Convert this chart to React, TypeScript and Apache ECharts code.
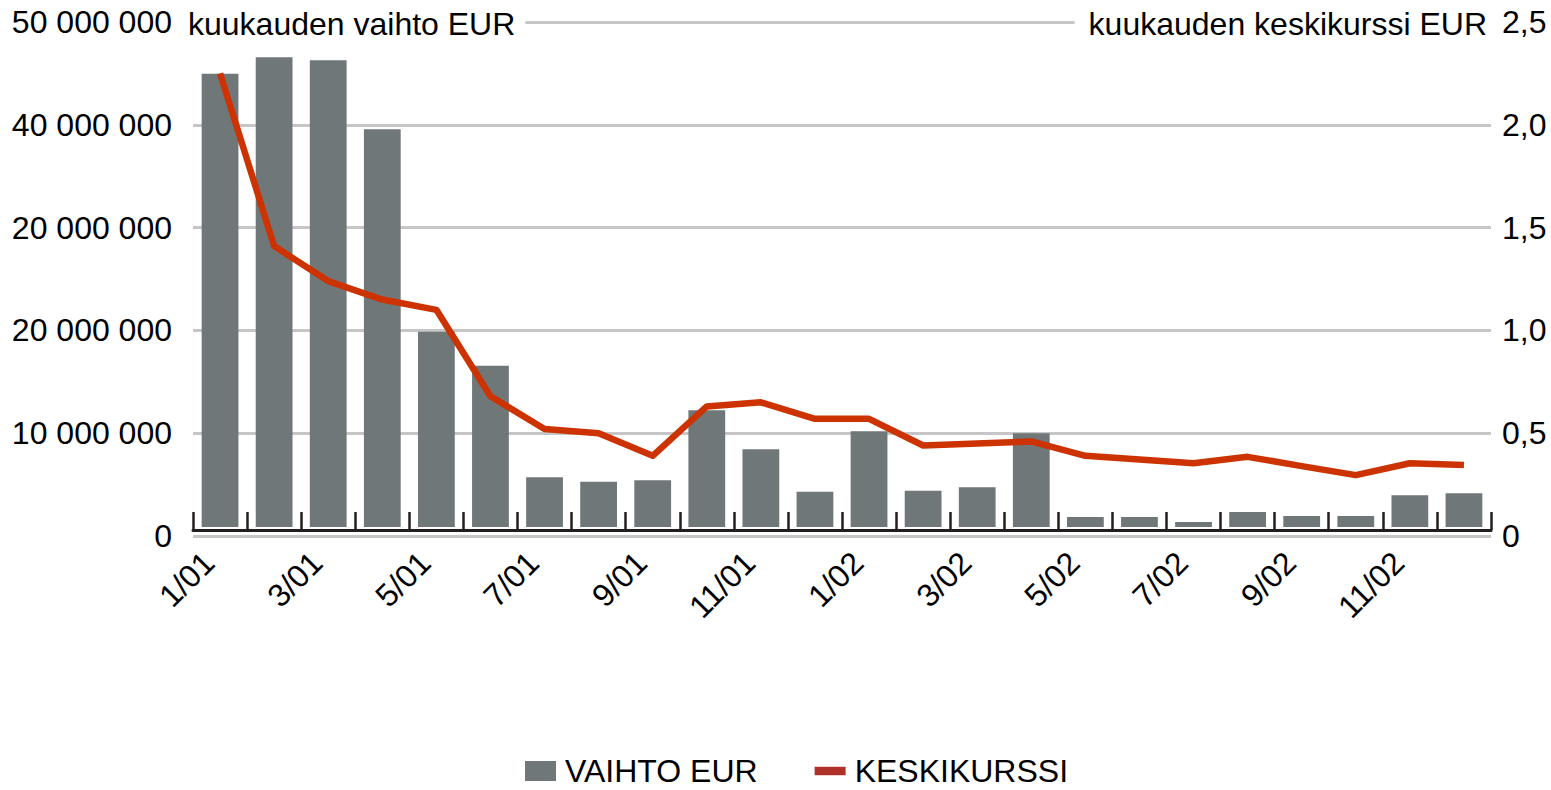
import React, { useEffect, useRef } from "react";
import * as echarts from "echarts";

const categories = [
  "1/01", "2/01", "3/01", "4/01", "5/01", "6/01", "7/01", "8/01", "9/01", "10/01", "11/01", "12/01",
  "1/02", "2/02", "3/02", "4/02", "5/02", "6/02", "7/02", "8/02", "9/02", "10/02", "11/02", "12/02",
];

const vaihtoEur = [
  44100000, 45700000, 45400000, 38700000, 19000000, 15700000, 4850000, 4400000, 4560000, 11360000, 7570000, 3430000,
  9320000, 3530000, 3880000, 9130000, 970000, 970000, 490000, 1460000, 1070000, 1070000, 3100000, 3300000,
];

const keskikurssi = [
  2.25, 1.41, 1.24, 1.15, 1.1, 0.68, 0.52, 0.5, 0.39, 0.63, 0.65, 0.57,
  0.57, 0.44, 0.45, 0.46, 0.39, 0.372, 0.354, 0.385, 0.34, 0.296, 0.354, 0.345,
];

const leftTickLabels = ["0", "10 000 000", "20 000 000", "20 000 000", "40 000 000", "50 000 000"];
const rightTickLabels = ["0", "0,5", "1,0", "1,5", "2,0", "2,5"];

const FONT = "'Liberation Sans', Arial, sans-serif";
const FS = 32;

export default function App() {
  const ref = useRef<HTMLDivElement>(null);

  useEffect(() => {
    if (!ref.current) return;
    const chart = echarts.init(ref.current, null, { renderer: "svg" });
    chart.setOption({
      animation: false,
      backgroundColor: "#ffffff",
      textStyle: { fontFamily: FONT },
      title: [
        {
          text: "kuukauden vaihto EUR",
          left: 178,
          top: 8,
          padding: [0, 10, 0, 10],
          backgroundColor: "#ffffff",
          textStyle: { fontSize: FS, fontWeight: "normal", color: "#000", fontFamily: FONT },
        },
        {
          text: "kuukauden keskikurssi EUR",
          right: 60,
          top: 8,
          padding: [0, 4, 0, 14],
          backgroundColor: "#ffffff",
          textStyle: { fontSize: FS, fontWeight: "normal", color: "#000", fontFamily: FONT },
        },
      ],
      legend: {
        left: 520,
        top: 750,
        itemWidth: 31,
        itemHeight: 20,
        itemGap: 57,
        textStyle: { fontSize: FS, lineHeight: 26, color: "#000", fontFamily: FONT, padding: [0, 0, 0, 4] },
        data: [
          { name: "VAIHTO EUR", icon: "rect", itemStyle: { color: "#6f7779", borderWidth: 0 } },
          {
            name: "KESKIKURSSI",
            icon: "path://M0,0h33v9h-33z",
            itemStyle: { color: "#b0302a", borderColor: "#b0302a", borderWidth: 0 },
          },
        ],
      },
      grid: { left: 193, right: 60, top: 22, bottom: 254, containLabel: false },
      xAxis: {
        type: "category",
        data: categories,
        offset: -6,
        axisLine: { show: true, onZero: false, lineStyle: { color: "#231f20", width: 3 } },
        axisTick: {
          show: true,
          inside: true,
          length: 18,
          interval: 0,
          alignWithLabel: false,
          lineStyle: { color: "#231f20", width: 2.5 },
        },
        axisLabel: {
          interval: 1,
          rotate: 45,
          margin: 16,
          padding: [0, 16, 0, 0],
          fontSize: FS,
          color: "#000",
          fontFamily: FONT,
        },
        splitLine: { show: false },
      },
      yAxis: [
        {
          type: "value",
          min: 0,
          max: 50000000,
          interval: 10000000,
          axisLine: { show: false },
          axisTick: { show: false },
          axisLabel: {
            margin: 21,
            fontSize: FS,
            color: "#000",
            fontFamily: FONT,
            formatter: (v: number) => leftTickLabels[Math.round(v / 10000000)],
          },
          splitLine: { lineStyle: { color: "#c6c6c6", width: 3 } },
        },
        {
          type: "value",
          position: "right",
          min: 0,
          max: 2.5,
          interval: 0.5,
          axisLine: { show: false },
          axisTick: { show: false },
          axisLabel: {
            margin: 11,
            fontSize: FS,
            color: "#000",
            fontFamily: FONT,
            formatter: (v: number) => rightTickLabels[Math.round(v / 0.5)],
          },
          splitLine: { show: false },
        },
        {
          type: "value",
          show: false,
          min: -870000,
          max: 49130000,
          splitLine: { show: false },
        },
      ],
      series: [
        {
          name: "VAIHTO EUR",
          type: "bar",
          yAxisIndex: 2,
          data: vaihtoEur,
          barCategoryGap: "32%",
          itemStyle: { color: "#6f7779" },
        },
        {
          name: "KESKIKURSSI",
          type: "line",
          yAxisIndex: 1,
          data: keskikurssi,
          symbol: "none",
          lineStyle: { color: "#cc3300", width: 6.5, cap: "butt", join: "round" },
          itemStyle: { color: "#cc3300" },
          z: 3,
        },
      ],
    });
    return () => chart.dispose();
  }, []);

  return (
    <div
      ref={ref}
      style={{ position: "fixed", left: 0, top: 0, width: 1551, height: 790, background: "#fff" }}
    />
  );
}
